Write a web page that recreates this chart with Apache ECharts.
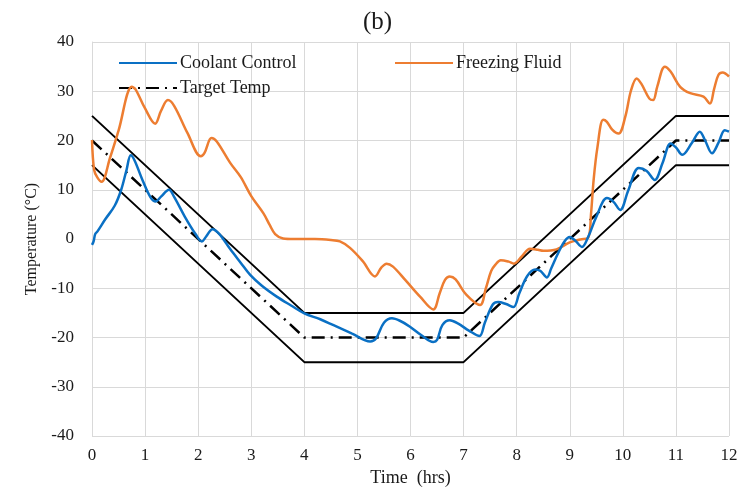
<!DOCTYPE html>
<html>
<head>
<meta charset="utf-8">
<script src="https://cdn.jsdelivr.net/npm/echarts@6/dist/echarts.min.js"></script>
<style>
  html, body { margin: 0; padding: 0; background: #fff; }
  #chart { width: 741px; height: 496px; }
</style>
</head>
<body>
<div id="chart"></div>
<script>
// Time (hrs) / temperature (°C) samples for each trace
const coolantControl = [
  [0,-1.2],[0.03,-0.5],[0.06,1],[0.1,1.5],[0.25,4],[0.43,6.8],[0.55,10],[0.65,14],[0.73,17],
  [0.8,16],[0.95,12],[1.1,8.5],[1.2,7.6],[1.3,8.6],[1.45,10],[1.55,8.5],[1.75,4.5],[1.95,1],
  [2.07,-0.5],[2.15,0.5],[2.27,2],[2.4,1],[2.6,-2],[2.8,-4.8],[2.98,-7.3],[3.2,-9.5],[3.48,-11.7],
  [3.75,-13.5],[4,-15.1],[4.3,-16.3],[4.55,-17.5],[4.9,-19.2],[5.24,-20.8],[5.35,-20.2],[5.5,-17],
  [5.65,-16.1],[5.8,-16.6],[5.99,-17.8],[6.2,-19.5],[6.43,-20.9],[6.5,-20.5],[6.6,-17.5],[6.74,-16.5],
  [6.9,-17.2],[7.1,-18.6],[7.3,-19.7],[7.4,-17],[7.55,-13.3],[7.65,-12.8],[7.8,-13.2],[7.94,-13.8],
  [8.05,-11],[8.2,-7.5],[8.35,-6.2],[8.45,-6.5],[8.57,-7.8],[8.65,-6],[8.78,-2.9],[8.9,-0.5],[9.0,0.4],
  [9.1,-0.3],[9.23,-1.6],[9.35,0.5],[9.5,4.5],[9.7,8.3],[9.82,7.6],[9.95,5.9],[10.1,9.8],[10.3,14.4],
  [10.45,13.8],[10.6,12],[10.75,15.5],[10.9,19.4],[11.0,18.6],[11.12,17.1],[11.3,19.5],[11.45,21.8],
  [11.55,20],[11.68,17.4],[11.8,19.5],[11.92,22.1],[12,21.8]
];

const freezingFluid = [
  [0,20.1],[0.04,14],[0.1,12.5],[0.18,11.6],[0.34,16.5],[0.5,22],[0.75,30.9],[0.82,30.4],[1.0,26.5],
  [1.19,23.4],[1.3,26],[1.43,28.2],[1.55,27],[1.8,21.5],[2.05,16.8],[2.12,17.5],[2.25,20.5],[2.35,19.8],
  [2.6,15.5],[2.8,12.6],[3.0,8.7],[3.23,5.2],[3.35,2.8],[3.45,1],[3.6,0.1],[3.8,0],[4.2,0],[4.5,-0.2],
  [4.67,-0.5],[4.86,-1.8],[5.1,-4.5],[5.33,-7.6],[5.45,-5.8],[5.55,-5.0],[5.67,-5.6],[5.9,-8.3],
  [6.18,-11.7],[6.43,-14.3],[6.55,-11],[6.65,-8.3],[6.74,-7.6],[6.85,-8.2],[7.05,-11.3],[7.31,-13.4],
  [7.42,-10],[7.52,-6.5],[7.6,-5.2],[7.7,-4.3],[7.85,-4.6],[7.95,-5],[8.1,-3.5],[8.25,-2],[8.4,-2.2],
  [8.5,-2.4],[8.75,-2.1],[9.0,-0.7],[9.2,-0.1],[9.35,0.3],[9.4,5],[9.45,12],[9.52,18.5],[9.63,24.2],
  [9.7,23.8],[9.8,22.2],[9.92,21.4],[10.05,25],[10.15,30],[10.26,32.6],[10.35,31.5],[10.5,28.5],
  [10.57,28.2],[10.65,31],[10.79,35],[10.9,34],[11.08,30.9],[11.27,29.6],[11.52,28.9],[11.64,27.5],
  [11.72,30.5],[11.8,33.3],[11.88,33.8],[12,33]
];

// Set-point profile and its ±5 °C tolerance band
const targetTemp = [[0,20],[4,-20],[7,-20],[11,20],[12,20]];
const upperLimit = [[0,25],[4,-15],[7,-15],[11,25],[12,25]];
const lowerLimit = [[0,15],[4,-25],[7,-25],[11,15],[12,15]];

const xTicks = { min: 0, max: 12, step: 1 };
const yTicks = { min: -40, max: 40, step: 10 };

const serif = '"Liberation Serif", "Times New Roman", serif';
const textColor = '#1a1a1a';

const chart = echarts.init(document.getElementById('chart'), null, { renderer: 'canvas' });

const legendBase = {
  orient: 'vertical',
  itemWidth: 58,
  itemHeight: 12,
  itemGap: 7,
  itemStyle: { opacity: 0 },
  textStyle: { fontFamily: serif, fontSize: 18, color: textColor, padding: [0, 0, 0, -2] },
  padding: 0
};

chart.setOption({
  animation: false,
  backgroundColor: '#ffffff',
  title: {
    text: '(b)',
    left: 358,
    top: 5,
    textStyle: { fontFamily: serif, fontSize: 25, fontWeight: 'normal', color: textColor }
  },
  legend: [
    Object.assign({}, legendBase, { left: 118, top: 54, data: ['Coolant Control', 'Target Temp'] }),
    Object.assign({}, legendBase, { left: 394, top: 54, data: ['Freezing Fluid'] })
  ],
  grid: { left: 92, right: 12, top: 42, bottom: 60 },
  xAxis: {
    type: 'value',
    min: xTicks.min, max: xTicks.max, interval: xTicks.step,
    name: 'Time  (hrs)',
    nameLocation: 'middle',
    nameGap: 33,
    nameTextStyle: { fontFamily: serif, fontSize: 18, color: textColor },
    axisLine: { show: true, lineStyle: { color: '#d9d9d9', width: 1 } },
    axisTick: { show: false },
    axisLabel: { fontFamily: serif, fontSize: 17, color: textColor, margin: 11 },
    splitLine: { show: true, lineStyle: { color: '#d9d9d9', width: 1 } }
  },
  yAxis: {
    type: 'value',
    min: yTicks.min, max: yTicks.max, interval: yTicks.step,
    name: 'Temperature (°C)',
    nameLocation: 'middle',
    nameGap: 52,
    nameTextStyle: { fontFamily: serif, fontSize: 16, color: textColor },
    axisLine: { show: true, lineStyle: { color: '#d9d9d9', width: 1 } },
    axisTick: { show: false },
    axisLabel: { fontFamily: serif, fontSize: 17, color: textColor, margin: 18 },
    splitLine: { show: true, lineStyle: { color: '#d9d9d9', width: 1 } }
  },
  series: [
    {
      name: 'Upper Limit', type: 'line', data: upperLimit, symbol: 'none',
      lineStyle: { color: '#000000', width: 2 }, z: 3
    },
    {
      name: 'Lower Limit', type: 'line', data: lowerLimit, symbol: 'none',
      lineStyle: { color: '#000000', width: 2 }, z: 3
    },
    {
      name: 'Target Temp', type: 'line', data: targetTemp, symbol: 'none',
      itemStyle: { color: '#000000' },
      lineStyle: { color: '#000000', width: 2.5, type: [13, 6, 2, 6] }, z: 3
    },
    {
      name: 'Freezing Fluid', type: 'line', data: freezingFluid, symbol: 'none', smooth: 0.35,
      itemStyle: { color: '#ed7d31' },
      lineStyle: { color: '#ed7d31', width: 2.5 }, z: 4
    },
    {
      name: 'Coolant Control', type: 'line', data: coolantControl, symbol: 'none', smooth: 0.35,
      itemStyle: { color: '#0a70c4' },
      lineStyle: { color: '#0a70c4', width: 2.5 }, z: 5
    }
  ]
});
</script>
</body>
</html>
